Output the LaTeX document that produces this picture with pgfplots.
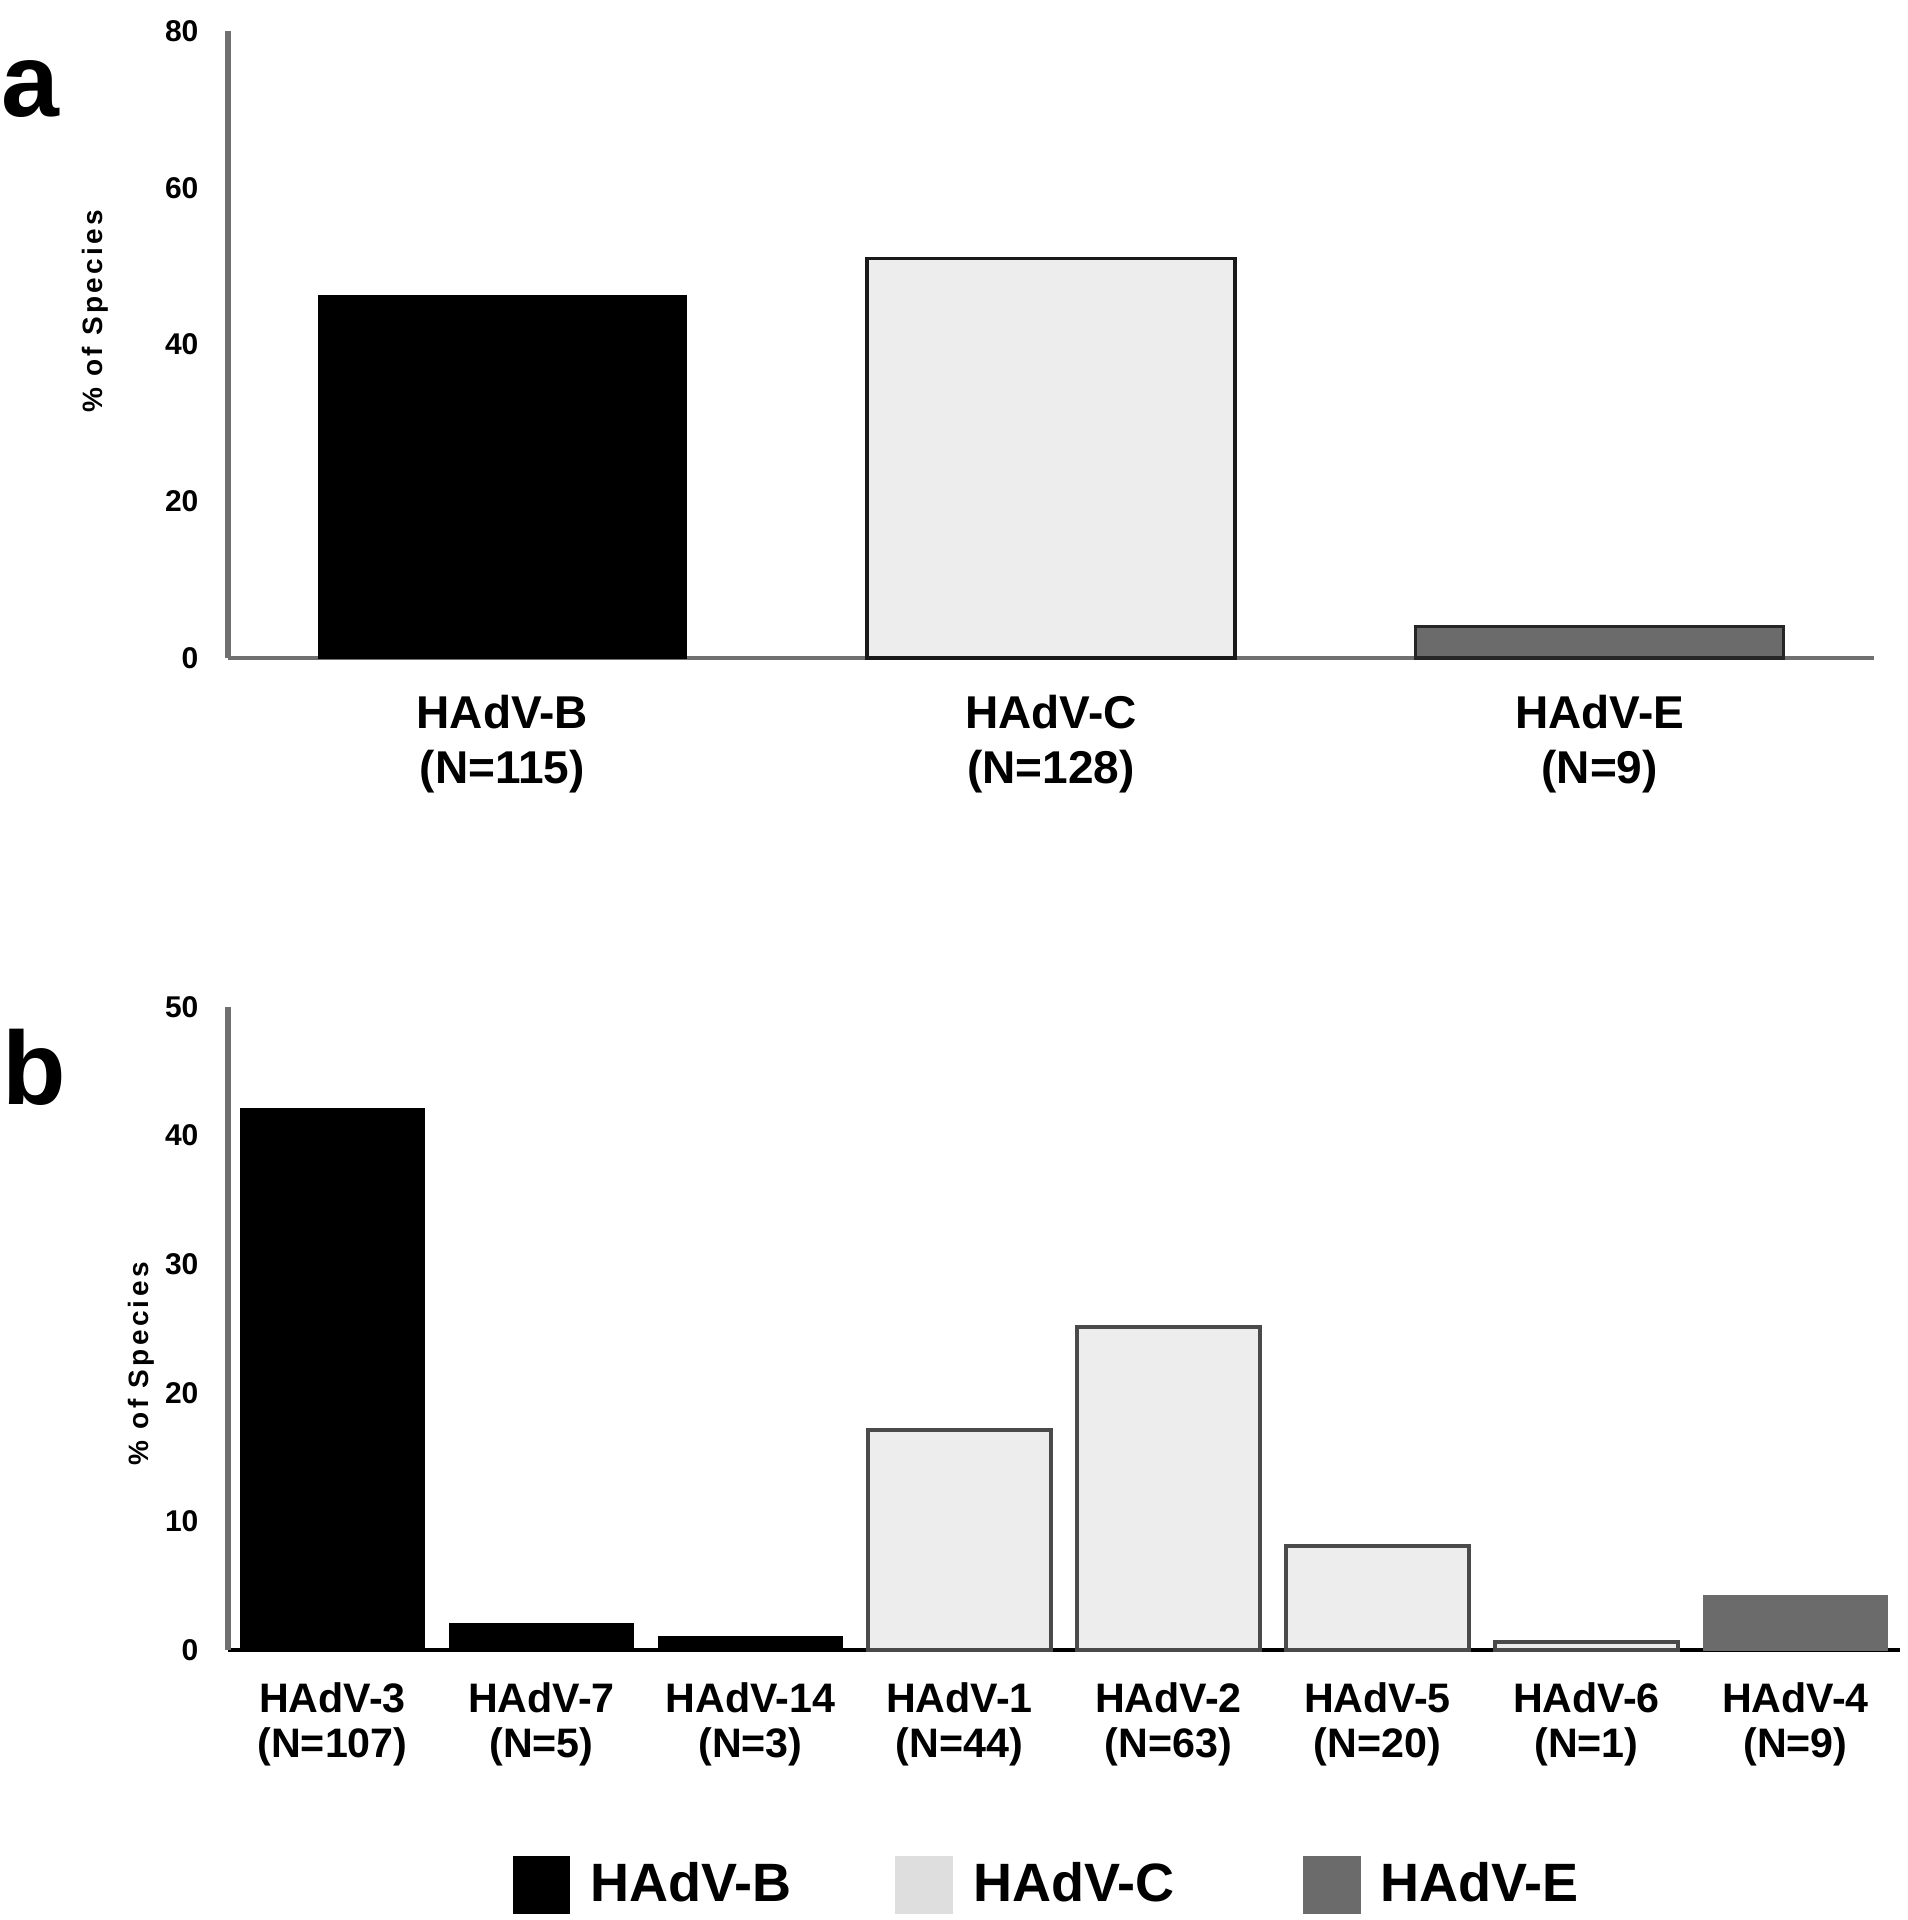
\documentclass[border=0pt]{standalone}
\usepackage{fontspec}
\setmainfont{Liberation Sans}
\usepackage{pgfplots}
\pgfplotsset{compat=1.18}
\definecolor{cfill}{HTML}{EDEDED}
\definecolor{cleg}{HTML}{DEDEDE}
\definecolor{efill}{HTML}{6B6B6B}
\definecolor{axgray}{HTML}{707070}
\definecolor{cedge}{HTML}{4A4A4A}
\pgfplotsset{
  common/.style={
    scale only axis, anchor=south west, clip=false,
    axis x line=bottom, axis y line=left,
    major tick length=0pt,
    /pgf/number format/assume math mode=true,
    yticklabel style={font=\fontsize{7.5}{9}\selectfont\bfseries, inner sep=0pt, xshift=-7.2pt},
    ylabel style={font=\fontsize{7}{8}\selectfont\bfseries\addfontfeature{LetterSpace=12}, anchor=center},
  }
}
\begin{document}
\begin{tikzpicture}
\useasboundingbox (0,0) rectangle (477pt,480pt);
% Panel a
\begin{axis}[common,
  at={(57pt,315.5pt)}, width=411.5pt, height=156.75pt,
  xmin=-0.5, xmax=2.5, ymin=0, ymax=80,
  ytick={0,20,40,60,80},
  xtick={0,1,2},
  xticklabels={{HAdV-B\\(N=115)},{HAdV-C\\(N=128)},{HAdV-E\\(N=9)}},
  xticklabel style={font=\fontsize{11.5}{13.75}\selectfont\bfseries, align=center, inner sep=0pt, yshift=-9.2pt},
  x axis line style={-, axgray, line width=0.8pt},
  y axis line style={-, axgray, line width=1.3pt},
  ylabel={\% of Species},
  ylabel style={at={(axis description cs:-0.0809,0.5534)}},
]
\addplot[ybar, bar width=92pt, bar shift=0pt, fill=black, draw=black] coordinates {(0,46.2)};
\addplot[ybar, bar width=92pt, bar shift=0pt, fill=cfill, draw=black!90, line width=0.9pt] coordinates {(1,51.0)};
\addplot[ybar, bar width=92pt, bar shift=0pt, fill=efill, draw=black!85, line width=0.9pt] coordinates {(2,4.0)};
\end{axis}
% Panel b
\begin{axis}[common,
  at={(57pt,67.5pt)}, width=418pt, height=160.75pt,
  xmin=-0.5, xmax=7.5, ymin=0, ymax=50,
  ytick={0,10,20,30,40,50},
  xtick={0,1,2,3,4,5,6,7},
  xticklabels={{HAdV-3\\(N=107)},{HAdV-7\\(N=5)},{HAdV-14\\(N=3)},{HAdV-1\\(N=44)},{HAdV-2\\(N=63)},{HAdV-5\\(N=20)},{HAdV-6\\(N=1)},{HAdV-4\\(N=9)}},
  xticklabel style={font=\fontsize{10.3}{11.25}\selectfont\bfseries, align=center, inner sep=0pt, yshift=-7.9pt},
  x axis line style={-, black, line width=1pt},
  y axis line style={-, axgray, line width=1.3pt},
  ylabel={\% of Species},
  ylabel style={at={(axis description cs:-0.0517,0.445)}},
  legend columns=3,
  legend style={draw=none, fill=none, inner sep=0pt, at={(axis description cs:0.1699,-0.3655)}, anchor=west,
    font=\fontsize{13.5}{16}\selectfont\bfseries,
    /tikz/column 1/.style={column sep=3pt},
    /tikz/column 2/.style={column sep=24pt},
    /tikz/column 3/.style={column sep=3pt},
    /tikz/column 4/.style={column sep=30.3pt},
    /tikz/column 5/.style={column sep=3pt}},
]
\addlegendimage{legend image code/.code={\fill[black] (0pt,-7pt) rectangle (14pt,7pt);}}
\addlegendimage{legend image code/.code={\fill[cleg] (0pt,-7pt) rectangle (14pt,7pt);}}
\addlegendimage{legend image code/.code={\fill[efill] (0pt,-7pt) rectangle (14pt,7pt);}}
\legend{HAdV-B,HAdV-C,HAdV-E}
\addplot[ybar, bar width=45.75pt, bar shift=0pt, fill=black, draw=black, forget plot] coordinates {(0,42.1) (1,2.0) (2,1.0)};
\addplot[ybar, bar width=45.75pt, bar shift=0pt, fill=cfill, draw=cedge, line width=1pt, forget plot] coordinates {(3,17.1) (4,25.1) (5,8.1) (6,0.6)};
\addplot[ybar, bar width=45.75pt, bar shift=0pt, fill=efill, draw=efill, forget plot] coordinates {(7,4.2)};
\end{axis}
\node[anchor=base west, inner sep=0pt, font=\fontsize{26}{30}\selectfont\bfseries] at (0.3pt,450.75pt) {a};
\node[anchor=base west, inner sep=0pt, font=\fontsize{26}{30}\selectfont\bfseries] at (0.5pt,203.75pt) {b};
\end{tikzpicture}
\end{document}
